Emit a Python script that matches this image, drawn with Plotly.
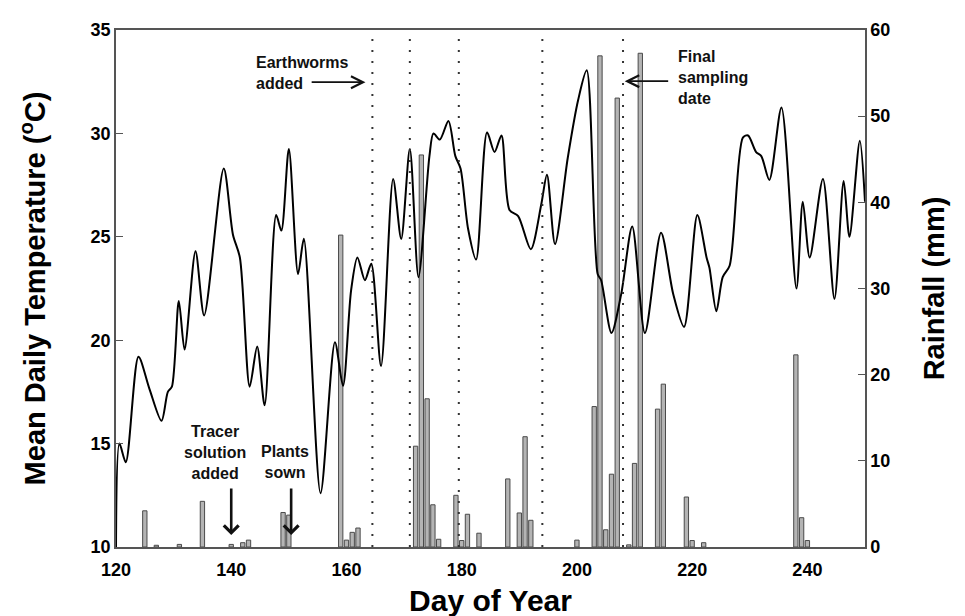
import plotly.graph_objects as go

# ---- data ----
temp_days = [120.0, 120.6, 121.7, 123.9, 125.8, 127.9, 129.0, 129.7, 130.9, 131.9,
             133.8, 135.3, 138.7, 140.3, 141.5, 143.2, 144.5, 145.8, 147.8, 148.7,
             150.0, 151.6, 152.6, 155.5, 158.0, 159.4, 160.8, 161.9, 163.2, 164.3,
             166.0, 168.1, 169.5, 171.0, 172.5, 174.4, 175.1, 176.2, 177.7, 178.9,
             179.8, 181.1, 182.5, 184.4, 185.7, 186.9, 188.3, 189.8, 192.0, 193.8,
             194.8, 196.2, 198.4, 200.2, 201.7, 203.6, 204.2, 206.0, 207.7, 209.6,
             211.8, 214.6, 216.7, 218.6, 220.9, 222.5, 223.0, 224.2, 225.3, 226.5,
             228.8, 229.7, 231.1, 232.0, 233.4, 235.5, 238.1, 239.2, 240.4, 242.7,
             244.7, 246.3, 247.3, 249.1, 250.0]
temp_c = [10.0, 15.0, 14.1, 19.2, 17.65, 16.1, 17.5, 17.75, 21.9, 19.55,
          24.3, 21.2, 28.3, 25.1, 24.0, 17.75, 19.7, 16.85, 26.05, 25.3,
          29.25, 23.2, 24.9, 12.6, 19.9, 17.8, 22.4, 24.0, 22.9, 23.7,
          18.75, 27.8, 24.9, 29.25, 23.05, 28.9, 30.0, 29.7, 30.6, 28.9,
          28.3, 25.4, 23.9, 30.05, 29.1, 29.9, 26.3, 26.0, 24.4, 26.55,
          28.0, 24.65, 28.8, 31.6, 33.05, 23.2, 22.9, 20.35, 22.25, 25.5,
          20.35, 25.2, 22.25, 20.65, 26.05, 24.0, 23.5, 21.4, 23.05, 23.6,
          29.8, 29.9, 29.1, 28.9, 27.75, 31.25, 22.5, 26.7, 24.0, 27.8,
          22.0, 27.7, 25.0, 29.65, 26.7]

rain_days = [125, 127, 131, 135, 140, 142, 143, 149, 150, 159,
             160, 161, 162, 172, 173, 174, 175, 176, 179, 180,
             181, 183, 188, 190, 191, 192, 200, 203, 204, 205,
             206, 207, 209, 210, 211, 214, 215, 219, 220, 222,
             238, 239, 240]
rain_mm = [4.2, 0.2, 0.3, 5.3, 0.3, 0.5, 0.8, 4.0, 3.7, 36.2,
           0.8, 1.7, 2.2, 11.7, 45.5, 17.2, 4.9, 0.9, 6.0, 0.75,
           3.8, 1.6, 7.9, 3.95, 12.8, 3.1, 0.8, 16.3, 57.0, 2.0,
           8.45, 52.1, 0.25, 9.7, 57.3, 16.0, 18.9, 5.8, 0.75, 0.5,
           22.3, 3.4, 0.75]

event_days = [164.5, 171, 179.5, 194, 208]   # dotted lines
tracer_day = 140
plants_day = 150.4
worm_day = 164.5
final_day = 208

x_ticks = [120, 140, 160, 180, 200, 220, 240]
temp_ticks = [10, 15, 20, 25, 30, 35]
rain_ticks = [0, 10, 20, 30, 40, 50, 60]

FONT = "Liberation Sans, Arial, Helvetica, sans-serif"
AX = "#555555"

fig = go.Figure()
fig.add_trace(go.Bar(x=rain_days, y=rain_mm, width=0.75, yaxis="y",
                     marker=dict(color="#b4b4b4", line=dict(color="#4a4a4a", width=1)),
                     name="Rainfall"))
fig.add_trace(go.Scatter(x=temp_days, y=temp_c, yaxis="y2", mode="lines",
                         line=dict(color="black", width=2, shape="spline", smoothing=0.8),
                         name="Temperature"))

for d in event_days:
    fig.add_shape(type="line", xref="x", yref="paper", x0=d, x1=d, y0=0, y1=1,
                  line=dict(color="#333333", width=2, dash="2px,9px"))

tickfont = dict(family=FONT, size=18, color="black", weight="bold")
ytitlefont = dict(family=FONT, size=29, color="black", weight="bold")
xtitlefont = dict(family=FONT, size=30, color="black", weight="bold")
annfont = dict(family=FONT, size=16, color="#111111", weight="bold")

fig.update_layout(
    width=965, height=616,
    margin=dict(l=108, r=108, t=16, b=76),
    plot_bgcolor="white", paper_bgcolor="white",
    showlegend=False,
    xaxis=dict(range=[120, 250], tickvals=x_ticks, ticks="", showgrid=False, zeroline=False,
               showline=True, linecolor=AX, linewidth=1.5, mirror=True,
               tickfont=tickfont, ticklabelstandoff=6,
               title=dict(text="Day of Year", font=xtitlefont, standoff=11)),
    yaxis=dict(range=[0, 60], tickvals=rain_ticks, side="right", ticks="inside", ticklen=7,
               tickcolor=AX, showgrid=False, zeroline=False, showline=True, linecolor=AX,
               linewidth=1.5, tickfont=tickfont,
               title=dict(text="Rainfall (mm)", font=ytitlefont, standoff=34)),
    yaxis2=dict(range=[10, 35], tickvals=temp_ticks, side="left", overlaying="y",
                ticks="inside", ticklen=7, tickcolor=AX, showgrid=False, zeroline=False,
                showline=True, linecolor=AX, linewidth=1.5, tickfont=tickfont,
                title=dict(text="Mean Daily Temperature (<sup>o</sup>C)", font=ytitlefont, standoff=36)),
)

# text labels
fig.add_annotation(xref="paper", yref="paper", x=0.184, y=0.917, xanchor="left", yanchor="middle",
                   text="Earthworms<br>added", showarrow=False, align="left", font=annfont)
fig.add_annotation(xref="paper", yref="paper", x=0.748, y=0.908, xanchor="left", yanchor="middle",
                   text="Final<br>sampling<br>date", showarrow=False, align="left", font=annfont)
fig.add_annotation(xref="paper", yref="paper", x=0.132, y=0.183, xanchor="center", yanchor="middle",
                   text="Tracer<br>solution<br>added", showarrow=False, align="center", font=annfont)
fig.add_annotation(xref="paper", yref="paper", x=0.2256, y=0.165, xanchor="center", yanchor="middle",
                   text="Plants<br>sown", showarrow=False, align="center", font=annfont)

# arrows
fig.add_annotation(x=worm_day - 1.2, y=0.899, xref="x", yref="paper", ax=worm_day - 10.8, ay=0,
                   axref="x", ayref="pixel", text="", showarrow=True, arrowhead=5,
                   arrowsize=1.3, arrowwidth=1.8, arrowcolor="#111111")
fig.add_annotation(x=final_day + 0.3, y=0.901, xref="x", yref="paper", ax=final_day + 8.1, ay=0,
                   axref="x", ayref="pixel", text="", showarrow=True, arrowhead=5,
                   arrowsize=1.3, arrowwidth=1.8, arrowcolor="#111111")
for d in (tracer_day, plants_day):
    fig.add_annotation(x=d, y=0.023, xref="x", yref="paper", ax=0, ay=-48,
                       text="", showarrow=True, arrowhead=4, arrowsize=1.1,
                       arrowwidth=2.6, arrowcolor="#111111")

fig.write_html("out.html")
